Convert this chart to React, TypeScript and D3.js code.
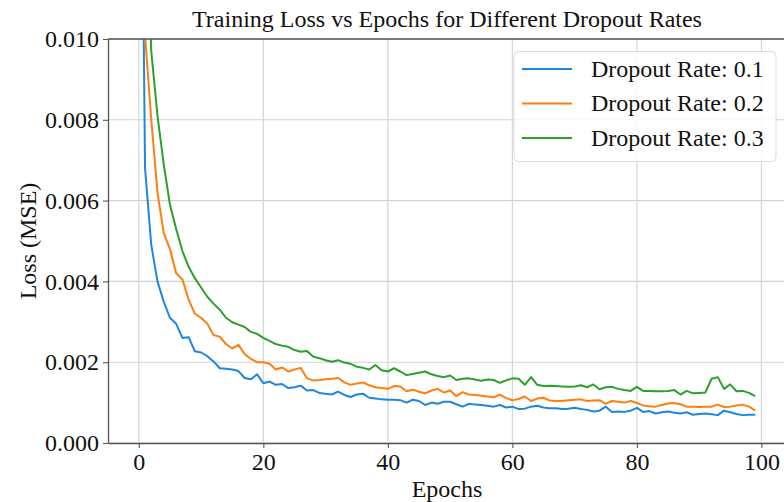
import * as d3 from 'd3';
import { useEffect, useRef } from 'react';

// loss per epoch (0..99)
const lossDropout01 = [
  0.022, 0.0068, 0.0049, 0.004, 0.0035, 0.0031, 0.00295, 0.0026, 0.00262, 0.00227,
  0.00224, 0.00215, 0.00202, 0.00185, 0.00184, 0.00182, 0.00178, 0.00161, 0.00158, 0.0017,
  0.00148, 0.00152, 0.00144, 0.00146, 0.00136, 0.00138, 0.00142, 0.0013, 0.00131, 0.00124,
  0.00122, 0.0012, 0.00127, 0.00119, 0.00114, 0.0012, 0.00122, 0.00112, 0.0011, 0.00108,
  0.00107, 0.00107, 0.00106, 0.001, 0.00107, 0.00104, 0.00094, 0.001, 0.00097, 0.00102,
  0.00102, 0.00096, 0.0009, 0.00097, 0.00095, 0.00094, 0.00092, 0.0009, 0.00094, 0.00088,
  0.0009, 0.00084, 0.00085, 0.0009, 0.00092, 0.00088, 0.00086, 0.00086, 0.00084, 0.00085,
  0.00087, 0.00084, 0.00082, 0.00078, 0.0008, 0.0009, 0.00077, 0.00078, 0.00077, 0.0008,
  0.00087, 0.00077, 0.00079, 0.00073, 0.00076, 0.00078, 0.00075, 0.00073, 0.00076, 0.0007,
  0.00072, 0.00073, 0.00071, 0.00069, 0.0008, 0.00076, 0.00072, 0.00069, 0.0007, 0.0007,
];
const lossDropout02 = [
  0.025, 0.0101, 0.008, 0.0062, 0.0052, 0.0048, 0.0042, 0.00405, 0.00355, 0.0032,
  0.0031, 0.00295, 0.00267, 0.00263, 0.00245, 0.00234, 0.00243, 0.0022, 0.00208, 0.002,
  0.002, 0.00196, 0.00182, 0.00187, 0.00177, 0.00182, 0.00186, 0.0016, 0.00155, 0.00156,
  0.00158, 0.00159, 0.00161, 0.0015, 0.00144, 0.00147, 0.0015, 0.00143, 0.00138, 0.00136,
  0.00134, 0.00141, 0.0014, 0.00128, 0.00132, 0.00127, 0.00123, 0.0013, 0.00134, 0.00125,
  0.0013, 0.00116, 0.00126, 0.0012, 0.00119, 0.00117, 0.00115, 0.00113, 0.0012, 0.00111,
  0.00106, 0.00109, 0.00115, 0.00104, 0.0011, 0.00112, 0.00105, 0.00104, 0.00104, 0.00106,
  0.00107, 0.00108, 0.00104, 0.00105, 0.00106, 0.00097, 0.00104, 0.00102, 0.001, 0.00104,
  0.00099, 0.00093, 0.00091, 0.0009, 0.00094, 0.00098, 0.00099, 0.00096, 0.0009, 0.0009,
  0.00089, 0.0009, 0.0009, 0.00095, 0.00089, 0.0009, 0.00093, 0.00095, 0.0009, 0.00081,
];
const lossDropout03 = [
  0.03, 0.014, 0.0097, 0.0081, 0.0069, 0.0059, 0.0053, 0.00475, 0.00436, 0.00408,
  0.00385, 0.00362, 0.00345, 0.0033, 0.0031, 0.00299, 0.00293, 0.00287, 0.00275, 0.0027,
  0.0026, 0.00253, 0.00245, 0.00241, 0.00238, 0.0023, 0.00226, 0.00228, 0.00214, 0.0021,
  0.00205, 0.00201, 0.00205, 0.00199, 0.00196, 0.00189, 0.00186, 0.00182, 0.00193, 0.0018,
  0.00177, 0.00185, 0.00177, 0.00168, 0.00171, 0.00174, 0.00177, 0.0017, 0.00166, 0.00163,
  0.00167, 0.00156, 0.00159, 0.0016, 0.00157, 0.00154, 0.00157, 0.00156, 0.00149, 0.00155,
  0.0016, 0.00159, 0.00144, 0.00163, 0.00144, 0.00141, 0.00142, 0.00141, 0.0014, 0.00139,
  0.0014, 0.00143, 0.00138, 0.00145, 0.00133, 0.00138, 0.00139, 0.00134, 0.00131, 0.00129,
  0.00139, 0.00129, 0.00129, 0.00128, 0.00128, 0.00129, 0.00131, 0.0012, 0.00129, 0.00123,
  0.00124, 0.00125, 0.00159, 0.00163, 0.00134, 0.00145, 0.00128, 0.00129, 0.00124, 0.00116,
];

const seriesLabels = ['Dropout Rate: 0.1', 'Dropout Rate: 0.2', 'Dropout Rate: 0.3'];
const seriesColors = ['#1f86dc', '#ff7f0e', '#2ca02c'];
const xTicks = [0, 20, 40, 60, 80, 100];
const yTicks = [0, 0.002, 0.004, 0.006, 0.008, 0.01];

const FONT = "'Liberation Serif', 'Times New Roman', serif";

export default function App() {
  const width = 784;
  const height = 502;
  const left = 108;
  const top = 39;
  const bottom = 443;
  const right = 786;

  const gx = useRef<SVGGElement>(null);
  const gy = useRef<SVGGElement>(null);

  const series = [lossDropout01, lossDropout02, lossDropout03];

  const x = d3.scaleLinear([-4.95, 103.95], [left, right]);
  const y = d3.scaleLinear([0, 0.01], [bottom, top]);

  const line = d3
    .line<number>()
    .x((d, i) => x(i))
    .y((d) => y(d));

  useEffect(() => {
    if (!gx.current) return;
    const g = d3.select(gx.current);
    g.call(
      d3.axisBottom(x).tickValues(xTicks).tickFormat(d3.format('d')).tickSize(5).tickSizeOuter(0).tickPadding(5),
    );
    g.attr('font-family', FONT).attr('font-size', 24);
    g.select('.domain').attr('stroke', '#555').attr('stroke-width', 1.3);
    g.selectAll('.tick line').attr('stroke', '#555').attr('stroke-width', 1.1);
    g.selectAll('.tick text').attr('fill', '#111');
  }, []);

  useEffect(() => {
    if (!gy.current) return;
    const g = d3.select(gy.current);
    g.call(
      d3.axisLeft(y).tickValues(yTicks).tickFormat(d3.format('.3f')).tickSize(5).tickSizeOuter(0).tickPadding(4),
    );
    g.attr('font-family', FONT).attr('font-size', 24);
    g.select('.domain').attr('stroke', '#555').attr('stroke-width', 1.3);
    g.selectAll('.tick line').attr('stroke', '#555').attr('stroke-width', 1.1);
    g.selectAll('.tick text').attr('fill', '#111');
  }, []);

  return (
    <svg
      width={width}
      height={height}
      style={{ position: 'absolute', left: 0, top: 0, background: '#fff' }}
    >
      <defs>
        <clipPath id='plot-clip'>
          <rect x={left} y={top} width={right - left} height={bottom - top} />
        </clipPath>
      </defs>

      {/* grid */}
      <g stroke='#cfd2d8' strokeWidth={1.1}>
        {xTicks.map((t) => (
          <line key={'gx' + t} x1={x(t)} x2={x(t)} y1={top} y2={bottom} />
        ))}
        {yTicks.map((t) => (
          <line key={'gy' + t} x1={left} x2={right} y1={y(t)} y2={y(t)} />
        ))}
      </g>

      <g clipPath='url(#plot-clip)' fill='none' strokeWidth={2} strokeLinejoin='round'>
        {series.map((s, i) => (
          <path key={i} d={line(s) ?? ''} stroke={seriesColors[i]} />
        ))}
      </g>

      <line x1={left} x2={right} y1={top} y2={top} stroke='#555' strokeWidth={1.3} />
      <g ref={gx} transform={`translate(0,${bottom})`} />
      <g ref={gy} transform={`translate(${left},0)`} />

      {/* legend */}
      <g fontFamily={FONT} fontSize={24}>
        <rect
          x={514}
          y={51.5}
          width={262}
          height={110}
          rx={4}
          fill='#fff'
          fillOpacity={0.85}
          stroke='#dcdcdc'
        />
        {seriesLabels.map((label, i) => (
          <g key={label} transform={`translate(0,${69 + i * 34.5})`}>
            <line x1={522} x2={572} stroke={seriesColors[i]} strokeWidth={2} />
            <text x={591} dy='0.33em' fill='#111'>
              {label}
            </text>
          </g>
        ))}
      </g>

      <text
        x={(left + right) / 2}
        y={27}
        textAnchor='middle'
        fontFamily={FONT}
        fontSize={24}
        fill='#111'
      >
        Training Loss vs Epochs for Different Dropout Rates
      </text>
      <text
        x={(left + right) / 2}
        y={497}
        textAnchor='middle'
        fontFamily={FONT}
        fontSize={24}
        fill='#111'
      >
        Epochs
      </text>
      <text
        transform={`translate(36,${(top + bottom) / 2}) rotate(-90)`}
        textAnchor='middle'
        fontFamily={FONT}
        fontSize={24}
        fill='#111'
      >
        Loss (MSE)
      </text>
    </svg>
  );
}
